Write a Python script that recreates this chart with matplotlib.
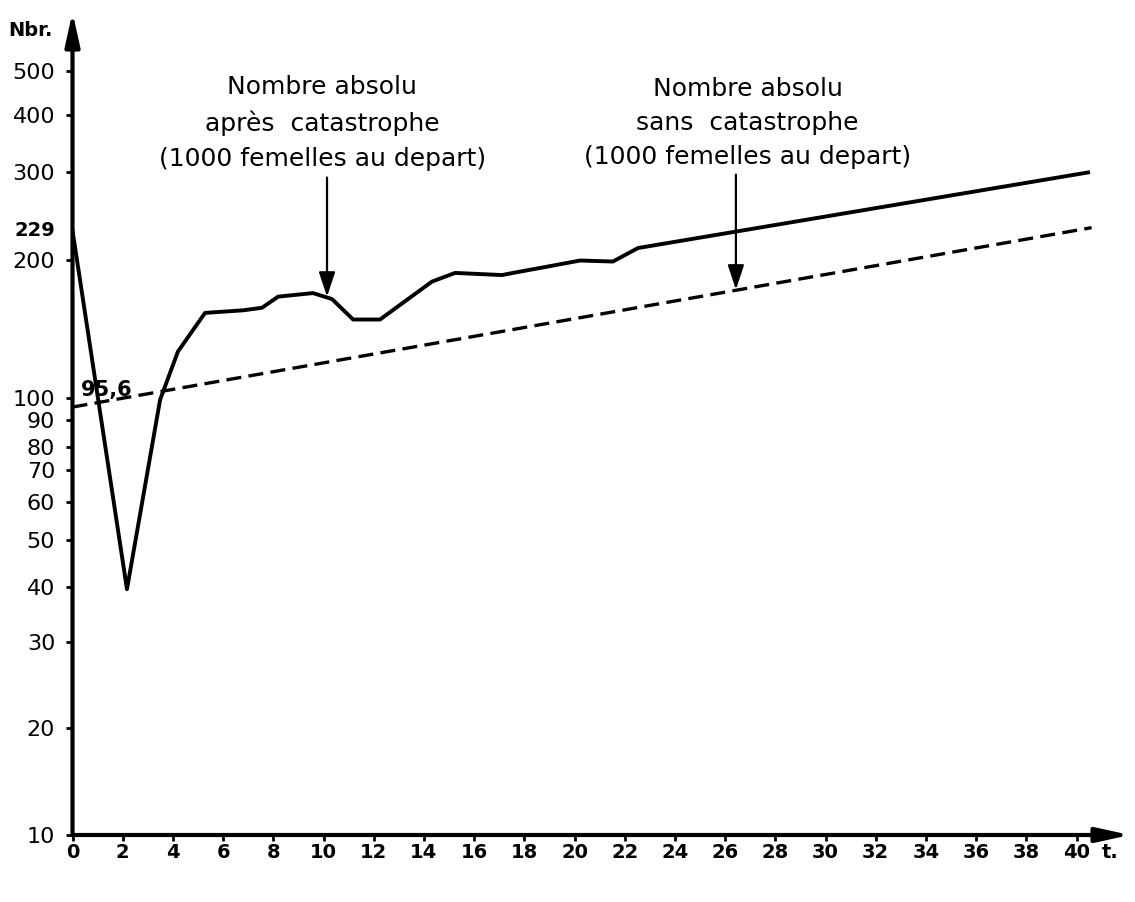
import matplotlib.pyplot as plt
from matplotlib.ticker import FixedLocator, FixedFormatter
import numpy as np

# courbe apres catastrophe
t_apres = [0, 2.17, 3.49, 4.2, 5.28, 6.8, 7.55, 8.19, 9.58, 10.34, 11.18, 12.25,
           14.32, 15.24, 17.11, 17.55, 19.14, 20.22, 21.53, 22.53, 40.46]
n_apres = [229, 39.5, 99, 126, 153, 155, 157, 166, 169, 164, 148, 148,
           179, 187, 185, 187, 194, 199, 198, 211, 300]

# courbe sans catastrophe
t_sans = [0, 40.6]
n_sans = [95.6, 232]

y_ticks = [10, 20, 30, 40, 50, 60, 70, 80, 90, 100, 200, 300, 400, 500]
x_ticks = list(range(0, 41, 2))

# the old hand drawn log axis is not quite regular: calibrate on its ticks
cal_vals = [10, 20, 30, 40, 50, 60, 70, 80, 90, 100, 200, 300, 400, 500, 1000]
cal_h = [0, 107, 193, 248, 295, 333, 365, 388, 415, 437, 575, 662, 719, 763, 900]
cal_log = np.log10(cal_vals)


def fwd(v):
    v = np.clip(np.asarray(v, dtype=float), 1e-6, None)
    return np.interp(np.log10(v), cal_log, cal_h)


def inv(h):
    return 10 ** np.interp(h, cal_h, cal_log)


fig = plt.figure(figsize=(11.35, 9.02), dpi=100)
ax = fig.add_axes([72.5 / 1135, 67 / 902, (1130 - 72.5) / 1135, (835 - 12) / 902])
ax.set_yscale('function', functions=(fwd, inv))

ax.plot(t_apres, n_apres, color='black', lw=2.8, solid_joinstyle='round')
ax.plot(t_sans, n_sans, color='black', lw=2.4, linestyle=(0, (4.5, 2.2)))

ax.set_xlim(0, 42.13)
ax.set_ylim(10, 675)

ax.yaxis.set_major_locator(FixedLocator(y_ticks))
ax.yaxis.set_major_formatter(FixedFormatter([str(v) for v in y_ticks]))
ax.yaxis.set_minor_locator(FixedLocator([]))
ax.set_xticks(x_ticks)
ax.set_xticklabels([str(v) for v in x_ticks], fontweight='bold')

ax.tick_params(axis='y', direction='out', length=5, width=2, pad=7.5, labelsize=16)
ax.tick_params(axis='x', direction='out', length=4, width=2, pad=2, labelsize=14)

for s in ['top', 'right', 'left', 'bottom']:
    ax.spines[s].set_visible(False)

# axes with arrow heads
ax_arrow = dict(arrowstyle='-|>,head_length=1.0,head_width=0.22', lw=3, color='black',
                mutation_scale=20, shrinkA=0, shrinkB=0)
ax.annotate('', xy=(0, 1.0), xytext=(0, 0), xycoords='axes fraction', arrowprops=ax_arrow,
            annotation_clip=False)
ax.annotate('', xy=(1.0, 0), xytext=(0, 0), xycoords='axes fraction', arrowprops=ax_arrow,
            annotation_clip=False)

# annotations
arr = dict(arrowstyle='-|>,head_length=0.75,head_width=0.25', lw=1.6, color='black',
           mutation_scale=20, shrinkA=0, shrinkB=0)
ax.annotate('', xy=(10.14, 166), xytext=(10.14, 293), arrowprops=arr)
ax.annotate('', xy=(26.43, 172), xytext=(26.43, 297), arrowprops=arr)

ax.text(9.95, 385, 'Nombre absolu\naprès  catastrophe\n(1000 femelles au depart)',
        ha='center', va='center', multialignment='center', fontsize=18, linespacing=1.55)
ax.text(26.9, 385, 'Nombre absolu\nsans  catastrophe\n(1000 femelles au depart)',
        ha='center', va='center', multialignment='center', fontsize=18, linespacing=1.55)

ax.text(-0.7, 229, '229', ha='right', va='center', fontsize=14, fontweight='bold',
        clip_on=False)
ax.text(0.35, 104, '95,6', ha='left', va='center', fontsize=15, fontweight='bold')

fig.text(53 / 1135, 1 - 31 / 902, 'Nbr.', ha='right', va='center', fontsize=14,
         fontweight='bold')
fig.text(1102 / 1135, 1 - 853 / 902, 't.', ha='left', va='center', fontsize=14,
         fontweight='bold')

plt.savefig('out.png', dpi=100)
